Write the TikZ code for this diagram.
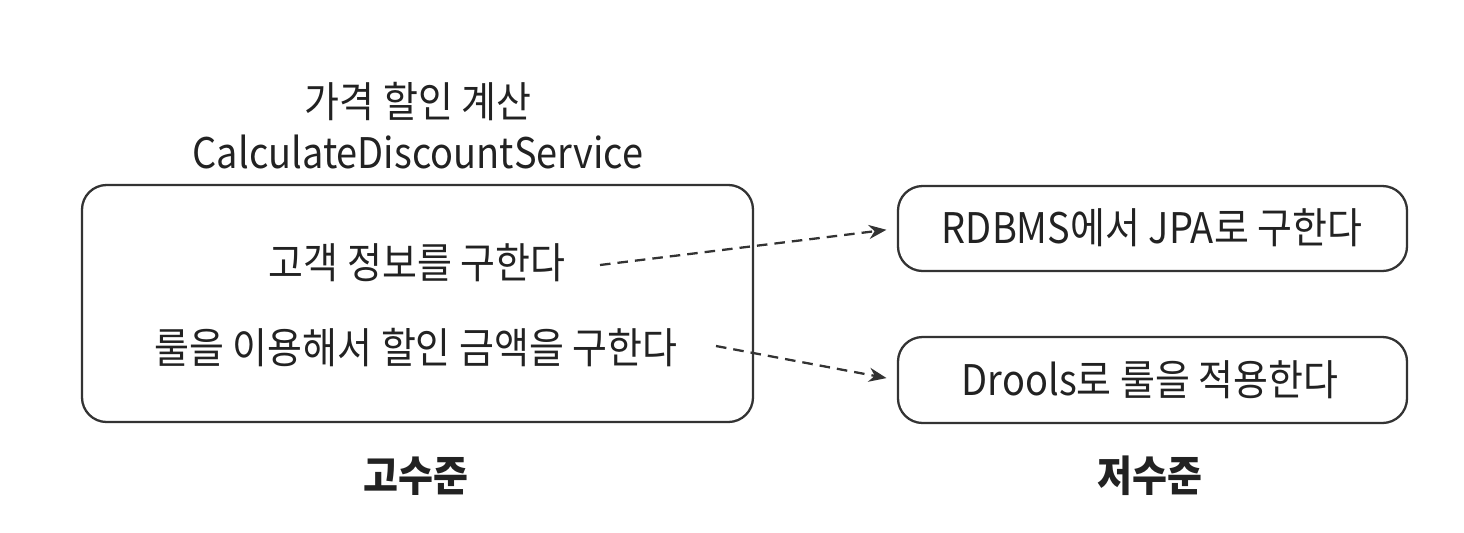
\documentclass[tikz,border=0pt]{standalone}
\usepackage{fontspec}
\setmainfont{Noto Sans CJK KR}[FakeStretch=0.9]
\usetikzlibrary{arrows.meta}
\definecolor{ink}{HTML}{222222}
\definecolor{edge}{HTML}{333333}
\tikzset{
  box/.style={draw=edge, line width=1.3pt, rounded corners=14pt},
  txt/.style={text=ink, font=\fontsize{24}{28}\selectfont, inner sep=0pt, anchor=center},
  lvl/.style={text=ink, font=\fontsize{24}{28}\selectfont\bfseries, inner sep=0pt},
  link/.style={draw=edge, line width=1.3pt, dash pattern=on 6pt off 4pt, -{Stealth[length=10pt,width=8pt]}}
}
\begin{document}
\begin{tikzpicture}[x=0.02cm,y=-0.02cm]
\useasboundingbox (0,0) rectangle (1464,532);
\fill[white] (0,0) rectangle (1464,532);
% boxes
\draw[box] (82,185) rectangle (753,422);
\node[box, minimum width=509*0.02cm, minimum height=85*0.02cm] (r1) at (1152.5,228.5) {};
\node[box, minimum width=509*0.02cm, minimum height=86*0.02cm] (r2) at (1152.5,380) {};
% titles
\node[txt] (title1) at (418,102) {가격 할인 계산};
\node[txt] (title2) at (418,152) {CalculateDiscountService};
% inner texts
\node[txt] (t1) at (417,263) {고객 정보를 구한다};
\node[txt] (t2) at (416,348) {룰을 이용해서 할인 금액을 구한다};
\node[txt] (r1t) at (1152,228) {RDBMS에서 JPA로 구한다};
\node[txt] (r2t) at (1150,380) {Drools로 룰을 적용한다};
% levels
\node[lvl] (hi) at (416,476) {고수준};
\node[lvl] (lo) at (1150,476) {저수준};
% links
\coordinate (s1) at (600,265);
\coordinate (s2) at (716,346);
\draw[link, shorten >=6pt] (s1) -- (r1.west);
\draw[link, shorten >=6pt] (s2) -- (r2.west);
\end{tikzpicture}
\end{document}
